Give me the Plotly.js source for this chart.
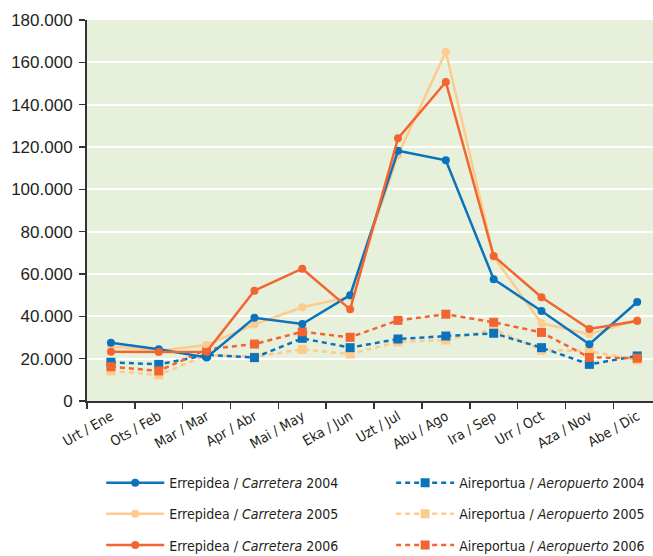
<!DOCTYPE html>
<html>
<head>
<meta charset="utf-8">
<script src="https://cdn.plot.ly/plotly-3.0.1.min.js"></script>
<style>html,body{margin:0;padding:0;background:#fff;overflow:hidden}#chart{width:653px;height:556px}</style>
</head>
<body>
<div id="chart"></div>
<script>
const months = ["Urt / Ene","Ots / Feb","Mar / Mar","Apr / Abr","Mai / May","Eka / Jun","Uzt / Jul","Abu / Ago","Ira / Sep","Urr / Oct","Aza / Nov","Abe / Dic"];
const carretera2004 = [27500,24400,20600,39300,36400,50000,118200,113700,57500,42500,26800,46800];
const carretera2005 = [25700,23800,26500,36200,44300,49300,116200,165000,68200,36700,31500,38300];
const carretera2006 = [23300,23100,23300,52100,62500,43300,124100,150700,68500,49000,34000,37800];
const aeropuerto2004 = [18300,17300,21800,20500,29600,25200,29300,30700,32000,25200,17300,21300];
const aeropuerto2005 = [14200,12300,21700,20900,24400,22200,27900,28800,33900,24100,23600,19400];
const aeropuerto2006 = [16200,14200,24400,26900,32700,30100,38100,41000,37200,32400,20600,20200];

const BLUE = "#0b73bb", LIGHT = "#fdcb8c", ORANGE = "#f26531";
const FONT = "'Liberation Sans Narrow', 'DejaVu Sans Condensed', sans-serif";

function road(name, y, color, grp) {
  return {type:"scatter", mode:"lines+markers", x: months, y: y, name: name,
    line:{color:color, width:2.5}, marker:{symbol:"circle", size:8, color:color},
    legend:"legend", legendgroup:grp};
}
function air(name, y, color, grp) {
  return {type:"scatter", mode:"lines+markers", x: months, y: y, name: name,
    line:{color:color, width:2.5, dash:"5px,4px"}, marker:{symbol:"square", size:9, color:color},
    legend:"legend2", legendgroup:grp};
}

const data = [
  air("Aireportua / <i>Aeropuerto</i> 2005", aeropuerto2005, LIGHT, "a5"),
  air("Aireportua / <i>Aeropuerto</i> 2004", aeropuerto2004, BLUE, "a4"),
  air("Aireportua / <i>Aeropuerto</i> 2006", aeropuerto2006, ORANGE, "a6"),
  road("Errepidea / <i>Carretera</i> 2005", carretera2005, LIGHT, "c5"),
  road("Errepidea / <i>Carretera</i> 2004", carretera2004, BLUE, "c4"),
  road("Errepidea / <i>Carretera</i> 2006", carretera2006, ORANGE, "c6")
];
data[0].legendrank = 2; data[1].legendrank = 1; data[2].legendrank = 3;
data[3].legendrank = 2; data[4].legendrank = 1; data[5].legendrank = 3;

const legendCommon = {
  orientation:"v", bgcolor:"rgba(0,0,0,0)", itemwidth:58, tracegroupgap:10,
  font:{family:FONT, size:14, color:"#231f20"}, xref:"container", yref:"container",
  yanchor:"top", xanchor:"left", traceorder:"grouped"
};

const layout = {
  width:653, height:556,
  margin:{l:87, r:0, t:20, b:155, autoexpand:false},
  paper_bgcolor:"#ffffff", plot_bgcolor:"#e6f0db",
  separators:",.",
  font:{family:FONT, color:"#231f20"},
  xaxis:{type:"category", range:[-0.5, 11.33], tickson:"boundaries", ticks:"outside", ticklen:6, tickwidth:1.5, tickcolor:"#333",
    showline:true, linecolor:"#333", linewidth:2, showgrid:false, tickangle:-30,
    tickfont:{family:FONT, size:14, color:"#231f20"}},
  yaxis:{range:[0,180000], dtick:20000, tickformat:",d", ticks:"outside", ticklen:6, tickwidth:1.5, tickcolor:"#333",
    showline:true, linecolor:"#333", linewidth:2, gridcolor:"#ffffff", gridwidth:2, zeroline:false,
    ticklabelstandoff:3,
    tickfont:{family:"'Liberation Sans', Arial, sans-serif", size:17, color:"#231f20"}},
  showlegend:true,
  legend:Object.assign({}, legendCommon, {x:0.155, y:0.16}),
  legend2:Object.assign({}, legendCommon, {x:0.599, y:0.16})
};

Plotly.newPlot("chart", data, layout, {displayModeBar:false, staticPlot:true});
</script>
</body>
</html>
